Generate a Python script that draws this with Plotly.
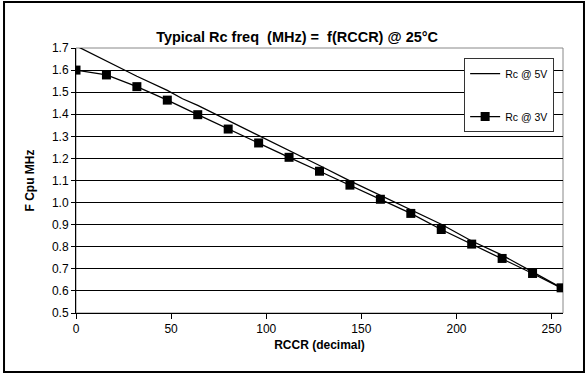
import plotly.graph_objects as go

# data
rccr_5v = [0, 16, 32, 48, 56, 64, 80, 96, 112, 128, 144, 160, 176, 192, 208, 224, 240, 255]
freq_5v = [1.71, 1.642, 1.572, 1.508, 1.47, 1.44, 1.372, 1.305, 1.238, 1.168, 1.098,
           1.032, 0.967, 0.902, 0.826, 0.762, 0.686, 0.615]

rccr_3v = [0, 16, 32, 48, 64, 80, 96, 112, 128, 144, 160, 176, 192, 208, 224, 240, 255]
freq_3v = [1.60, 1.578, 1.525, 1.464, 1.398, 1.333, 1.270, 1.205, 1.142, 1.079, 1.015,
           0.951, 0.878, 0.812, 0.747, 0.679, 0.614]

font = "Liberation Sans, Arial, sans-serif"

fig = go.Figure()
fig.add_trace(go.Scatter(x=rccr_5v, y=freq_5v, mode="lines", name="Rc @ 5V",
                         line=dict(color="black", width=1.3), legendgroup="a"))
fig.add_trace(go.Scatter(x=rccr_3v, y=freq_3v, mode="lines+markers", name="Rc @ 3V",
                         line=dict(color="black", width=1.3),
                         marker=dict(symbol="square", size=9, color="black"),
                         legendgroup="b"))

fig.update_layout(
    width=587, height=376,
    margin=dict(l=76, r=24, t=48, b=63),
    paper_bgcolor="white", plot_bgcolor="white",
    font=dict(family=font, size=12, color="black"),
    title=dict(text="<b>Typical Rc freq  (MHz) =  f(RCCR) @ 25°C</b>",
               x=0.454, xref="paper", xanchor="center", y=0.902, yanchor="middle",
               font=dict(size=14.5, family=font, color="black")),
    legend=dict(x=0.797, y=0.962, xanchor="left", yanchor="top",
                bgcolor="white", bordercolor="#333333", borderwidth=1,
                font=dict(size=10.5, family=font), tracegroupgap=24,
                itemwidth=30),
    shapes=[
        dict(type="rect", xref="paper", yref="paper",
             x0=-0.1478, x1=1.0431, y0=-0.2226, y1=1.1736,
             line=dict(color="black", width=2), layer="below"),
        dict(type="rect", xref="paper", yref="paper", x0=0, x1=1, y0=0, y1=1,
             line=dict(color="#888888", width=1), layer="below"),
    ],
)

fig.update_xaxes(range=[0, 256], tickvals=[0, 50, 100, 150, 200, 250],
                 showgrid=False, zeroline=False, showline=True,
                 linecolor="black", linewidth=1, ticks="outside", ticklen=5,
                 tickcolor="black",
                 title=dict(text="<b>RCCR (decimal)</b>", standoff=5,
                            font=dict(size=12, family=font)))
fig.update_yaxes(range=[0.5, 1.7], dtick=0.1, tickformat=".1f",
                 showgrid=True, gridcolor="black", gridwidth=1,
                 zeroline=False, showline=True, linecolor="black", linewidth=1,
                 ticks="outside", ticklen=4, tickcolor="black",
                 title=dict(text="<b>F Cpu MHz</b>", standoff=14,
                            font=dict(size=12, family=font)))

# remove the default page margin so the figure sits at the window's corner
fig.write_html("out.html", config={"displayModeBar": False},
               post_script="document.body.style.margin='0';")
